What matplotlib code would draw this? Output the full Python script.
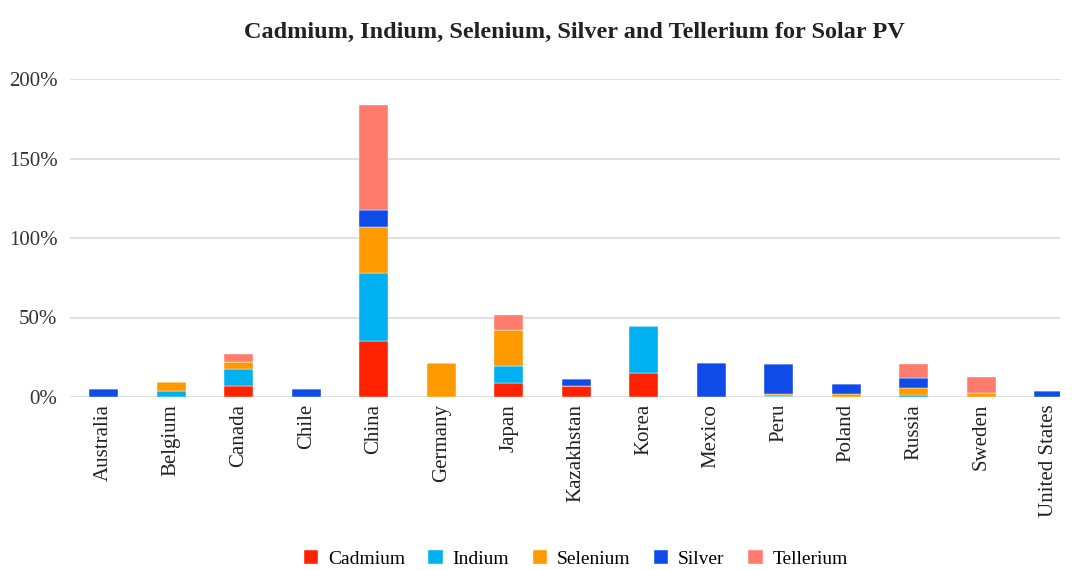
import matplotlib.pyplot as plt
import numpy as np

countries = ["Australia", "Belgium", "Canada", "Chile", "China", "Germany", "Japan",
             "Kazakhstan", "Korea", "Mexico", "Peru", "Poland", "Russia", "Sweden",
             "United States"]

# shares in percent, stacked in this order
cadmium = [0, 0, 7.2, 0, 35.5, 0, 9.1, 6.8, 14.9, 0, 0, 0, 0, 0, 0]
indium = [0, 3.8, 10.3, 0, 42.3, 0, 10.1, 0, 29.5, 0, 0.8, 0, 1.0, 0, 0]
selenium = [0, 5.9, 4.8, 0, 29.1, 21.6, 23.1, 0, 0, 0, 1.0, 1.9, 4.6, 2.3, 0]
silver = [5.0, 0, 0, 5.0, 10.4, 0, 0, 4.4, 0, 21.5, 18.9, 6.0, 6.5, 0, 3.6]
tellurium = [0, 0, 4.6, 0, 66.5, 0, 9.0, 0, 0, 0, 0, 0, 8.6, 10.3, 0]

series = [("Cadmium", cadmium, "#ff2200"),
          ("Indium", indium, "#00b0f0"),
          ("Selenium", selenium, "#ff9900"),
          ("Silver", silver, "#0f4be8"),
          ("Tellerium", tellurium, "#ff7b6b")]

plt.rcParams["font.family"] = ["Liberation Serif", "DejaVu Serif"]

fig = plt.figure(figsize=(10.72, 5.70), dpi=100)
ax = fig.add_axes([70 / 1072, 1 - 397 / 570, 990 / 1072, 318 / 570])

x = np.arange(len(countries))
bottom = np.zeros(len(countries))
for name, vals, color in series:
    vals = np.array(vals)
    ax.bar(x, vals, 0.43, bottom=bottom, color=color, label=name,
           edgecolor="white", linewidth=0.3, zorder=3)
    bottom += vals

ax.set_ylim(0, 200)
ax.set_xlim(-0.5, 14.17)
ax.set_yticks([0, 50, 100, 150, 200])
ax.set_yticklabels(["0%", "50%", "100%", "150%", "200%"], fontsize=15, color="#333333")
ax.set_xticks(x)
ax.set_xticklabels(countries, rotation=90, fontsize=15, color="#222222")
ax.tick_params(axis="y", length=0, pad=9)
ax.tick_params(axis="x", length=0, pad=5)
ax.grid(axis="y", color="#d9d9d9", linewidth=1.2, zorder=0)
for s in ax.spines.values():
    s.set_visible(False)

fig.suptitle("Cadmium, Indium, Selenium, Silver and Tellerium for Solar PV",
             x=0.536, y=0.962, fontsize=17.5, fontweight="bold", color="#222222")

fig.legend(loc="center", bbox_to_anchor=(0.537, 1 - 559 / 570), ncol=5, frameon=False,
           fontsize=14, handlelength=0.75, handleheight=0.75, handletextpad=0.5,
           columnspacing=1.2, borderpad=0)

fig.savefig("out.png", dpi=100, facecolor="white")
